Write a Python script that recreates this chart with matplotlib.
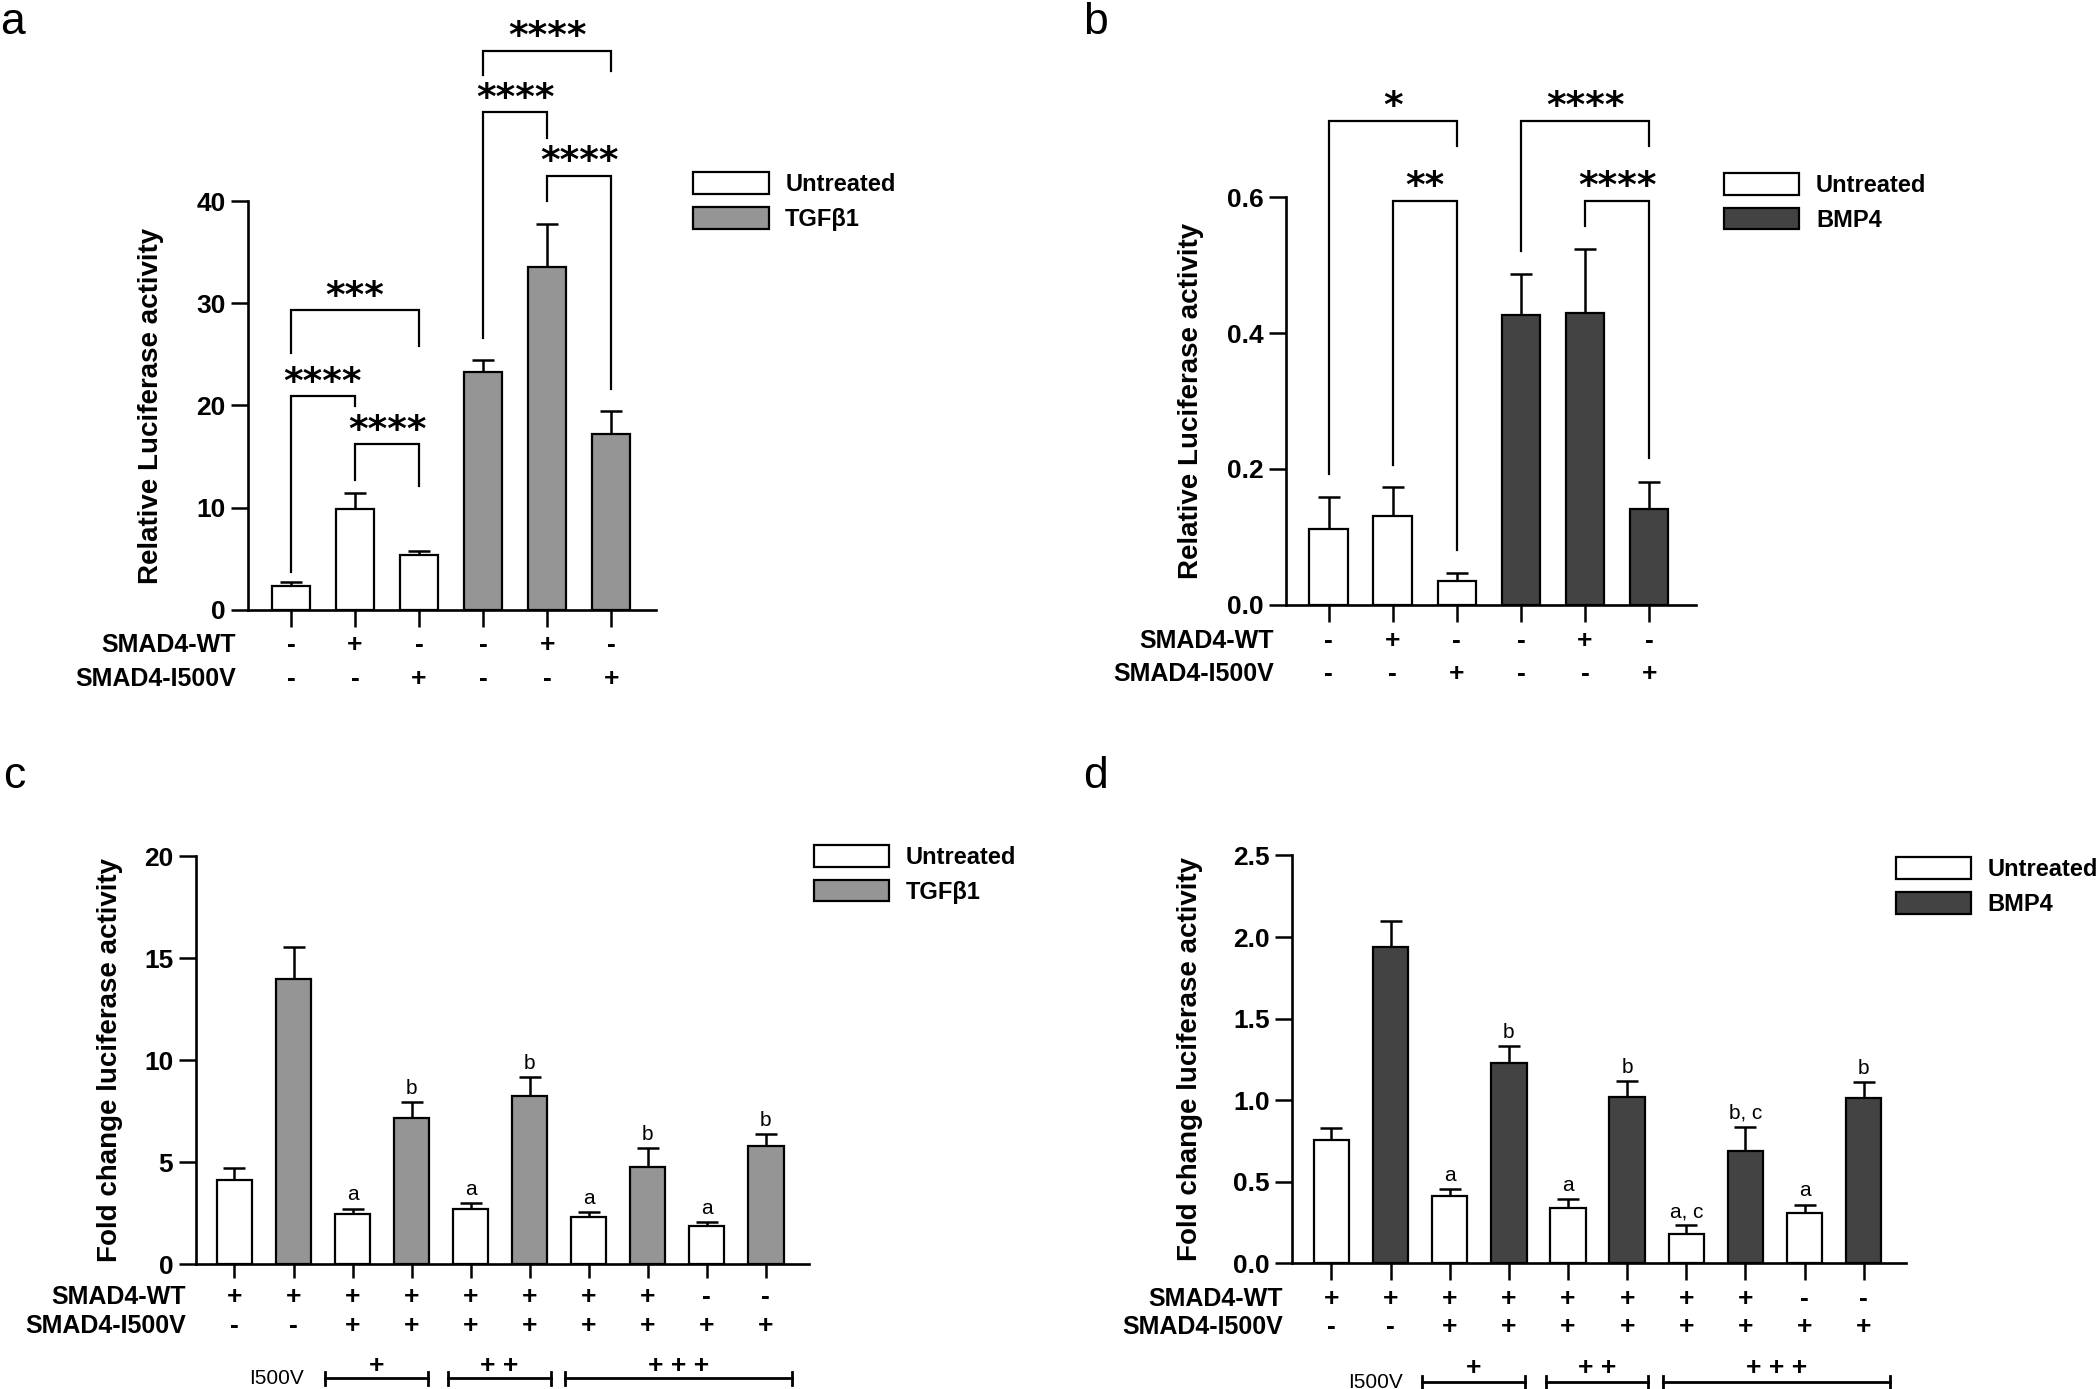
import matplotlib
matplotlib.use("Agg")
import matplotlib.pyplot as plt
import numpy as np
from matplotlib import font_manager as fm

_names = {f.name for f in fm.fontManager.ttflist}
SANS = "Liberation Sans" if "Liberation Sans" in _names else "DejaVu Sans"
NARROW = "Liberation Sans Narrow" if "Liberation Sans Narrow" in _names else SANS
plt.rcParams["font.family"] = [SANS, "DejaVu Sans"]

# ---------------- data ----------------
# panel a (TGFβ1, relative luciferase)
a_wt = ["-", "+", "-", "-", "+", "-"]
a_mut = ["-", "-", "+", "-", "-", "+"]
a_values = [2.3, 9.9, 5.4, 23.3, 33.6, 17.2]
a_err = [0.4, 1.5, 0.4, 1.1, 4.2, 2.3]
a_treated = [False, False, False, True, True, True]
# brackets: (i, j, y, left leg bottom, right leg bottom, label)
a_brackets = [
    (0, 2, 29.3, 25.1, 25.8, "***"),
    (0, 1, 20.9, 3.7, 19.9, "****"),
    (1, 2, 16.2, 12.7, 12.1, "****"),
    (3, 5, 54.7, 52.3, 52.7, "****"),
    (3, 4, 48.7, 26.6, 46.2, "****"),
    (4, 5, 42.5, 40.0, 21.6, "****"),
]

# panel b (BMP4, relative luciferase)
b_wt = ["-", "+", "-", "-", "+", "-"]
b_mut = ["-", "-", "+", "-", "-", "+"]
b_values = [0.112, 0.130, 0.035, 0.427, 0.430, 0.141]
b_err = [0.046, 0.043, 0.012, 0.060, 0.094, 0.040]
b_treated = [False, False, False, True, True, True]
b_brackets = [
    (0, 2, 0.713, 0.193, 0.676, "*"),
    (1, 2, 0.595, 0.206, 0.081, "**"),
    (3, 5, 0.713, 0.521, 0.676, "****"),
    (4, 5, 0.595, 0.558, 0.216, "****"),
]

# panel c (TGFβ1, fold change)
c_wt = ["+", "+", "+", "+", "+", "+", "+", "+", "-", "-"]
c_mut = ["-", "-", "+", "+", "+", "+", "+", "+", "+", "+"]
c_values = [4.11, 14.0, 2.46, 7.16, 2.69, 8.24, 2.30, 4.78, 1.87, 5.80]
c_err = [0.61, 1.54, 0.27, 0.78, 0.32, 0.92, 0.24, 0.90, 0.18, 0.59]
c_treated = [False, True] * 5
c_letters = ["", "", "a", "b", "a", "b", "a", "b", "a", "b"]

# panel d (BMP4, fold change)
d_wt = ["+", "+", "+", "+", "+", "+", "+", "+", "-", "-"]
d_mut = ["-", "-", "+", "+", "+", "+", "+", "+", "+", "+"]
d_values = [0.755, 1.94, 0.413, 1.227, 0.339, 1.023, 0.182, 0.691, 0.307, 1.015]
d_err = [0.073, 0.16, 0.042, 0.103, 0.054, 0.093, 0.052, 0.147, 0.054, 0.096]
d_treated = [False, True] * 5
d_letters = ["", "", "a", "b", "a", "b", "a, c", "b, c", "a", "b"]

# I500V dose groups (label, span start, span end in bar units)
dose_labels = ["+", "+ +", "+ + +"]
dose_start = [1.53, 3.62, 5.60]
dose_end = [3.27, 5.36, 9.45]

WHITE = "#ffffff"
GRAY = "#959595"
DARK = "#434343"

fig = plt.figure(figsize=(21, 13.89), dpi=100)


def make_axes(rect, xlim, ylim, yticks, ytick_fmt, tick_len):
    ax = fig.add_axes(rect)
    ax.set_xlim(*xlim)
    ax.set_ylim(*ylim)
    ax.spines["top"].set_visible(False)
    ax.spines["right"].set_visible(False)
    for s in ("left", "bottom"):
        ax.spines[s].set_linewidth(1.9)
    ax.set_yticks(yticks)
    ax.set_yticklabels([ytick_fmt.format(v) for v in yticks])
    ax.tick_params(axis="y", direction="out", length=12, width=1.8, pad=4,
                   labelsize=19)
    ax.tick_params(axis="x", direction="out", length=tick_len, width=1.8)
    for lab in ax.get_yticklabels():
        lab.set_fontweight("bold")
    return ax


def draw_bars(ax, values, err, treated, treat_label, treat_color):
    x = np.arange(len(values))
    values = np.asarray(values)
    err = np.asarray(err)
    t = np.asarray(treated)
    ax.errorbar(x, values, yerr=[np.zeros_like(err), err], fmt="none",
                ecolor="black", elinewidth=1.8, capsize=8, capthick=1.8,
                zorder=1)
    ax.bar(x[~t], values[~t], width=0.6, color=WHITE, edgecolor="black",
           linewidth=1.6, label="Untreated", zorder=2)
    ax.bar(x[t], values[t], width=0.6, color=treat_color, edgecolor="black",
           linewidth=1.6, label=treat_label, zorder=2)
    ax.set_xticks(x)
    ax.set_xticklabels([])
    return x


def rows(ax, wt, mut, ywt, ymut, xlab):
    tr = ax.get_xaxis_transform()
    for i, (w, m) in enumerate(zip(wt, mut)):
        ax.text(i, ywt, w, transform=tr, ha="center", va="center",
                fontsize=19, fontweight="bold", clip_on=False)
        ax.text(i, ymut, m, transform=tr, ha="center", va="center",
                fontsize=19, fontweight="bold", clip_on=False)
    ax.text(xlab, ywt, "SMAD4-WT", transform=ax.transAxes, ha="right",
            va="center", fontsize=18, fontweight="bold")
    ax.text(xlab, ymut, "SMAD4-I500V", transform=ax.transAxes, ha="right",
            va="center", fontsize=18, fontweight="bold")


def brackets(ax, blist):
    for i, j, y, yl, yr, lab in blist:
        ax.plot([i, i, j, j], [yl, y, y, yr], color="black", lw=1.6,
                clip_on=False, solid_joinstyle="miter")
        ax.annotate(lab, xy=((i + j) / 2, y), xytext=(0, 2.5),
                    textcoords="offset points", ha="center", va="baseline",
                    fontsize=27, fontweight="bold", family="DejaVu Sans",
                    annotation_clip=False)


def letters(ax, values, err, labs):
    for i, (v, e, s) in enumerate(zip(values, err, labs)):
        if s:
            ax.annotate(s, xy=(i, v + e), xytext=(0, 3),
                        textcoords="offset points", ha="center",
                        va="bottom", fontsize=15, family=NARROW)


def dose(ax, yline, ytext, xlab):
    tr = ax.get_xaxis_transform()
    for lab, x0, x1 in zip(dose_labels, dose_start, dose_end):
        ax.plot([x0, x1], [yline, yline], color="black", lw=2,
                transform=tr, clip_on=False)
        for xx in (x0, x1):
            ax.plot([xx, xx], [yline - 0.016, yline + 0.016], color="black",
                    lw=2, transform=tr, clip_on=False)
        ax.text((x0 + x1) / 2, ytext, lab, transform=tr, ha="center",
                va="center", fontsize=19, fontweight="bold")
    ax.text(xlab, yline, "I500V", transform=tr, ha="center", va="center",
            fontsize=15)


def legend(ax, x, y):
    leg = ax.legend(loc="upper left", bbox_to_anchor=(x, y), frameon=False,
                    prop={"size": 17, "weight": "bold"}, handlelength=3.2,
                    handleheight=1.05, labelspacing=0.45, handletextpad=0.7,
                    borderpad=0, borderaxespad=0)
    return leg


def ylabel(ax, text, xpos):
    ax.set_ylabel(text, fontsize=20, fontweight="bold")
    ax.yaxis.set_label_coords(xpos, 0.5)


def panel_letter(x, y, s):
    fig.text(x / 2100, 1 - y / 1389, s, fontsize=32, ha="left",
             va="baseline")


# ---------------- panel a ----------------
ax_a = make_axes([0.1181, 0.5610, 0.1943, 0.2942], (-0.67, 5.7), (0, 40),
                 [0, 10, 20, 30, 40], "{:.0f}", 12)
draw_bars(ax_a, a_values, a_err, a_treated, "TGFβ1", GRAY)
brackets(ax_a, a_brackets)
rows(ax_a, a_wt, a_mut, -0.0861, -0.1686, -0.029)
legend(ax_a, 1.0907, 1.071)
ylabel(ax_a, "Relative Luciferase activity", -0.205)
panel_letter(0, 34, "a")

# ---------------- panel b ----------------
ax_b = make_axes([0.6122, 0.5647, 0.1954, 0.2932], (-0.67, 5.73), (0, 0.6),
                 [0.0, 0.2, 0.4, 0.6], "{:.1f}", 12)
draw_bars(ax_b, b_values, b_err, b_treated, "BMP4", DARK)
brackets(ax_b, b_brackets)
rows(ax_b, b_wt, b_mut, -0.0888, -0.1710, -0.0285)
legend(ax_b, 1.068, 1.06)
ylabel(ax_b, "Relative Luciferase activity", -0.20)
panel_letter(1083, 34, "b")

# ---------------- panel c ----------------
ax_c = make_axes([0.0931, 0.0898, 0.2921, 0.2937], (-0.66, 9.73), (0, 20),
                 [0, 5, 10, 15, 20], "{:.0f}", 10)
draw_bars(ax_c, c_values, c_err, c_treated, "TGFβ1", GRAY)
letters(ax_c, c_values, c_err, c_letters)
rows(ax_c, c_wt, c_mut, -0.0814, -0.1502, -0.0155)
dose(ax_c, -0.2794, -0.249, 0.72)
legend(ax_c, 1.0075, 1.028)
ylabel(ax_c, "Fold change luciferase activity", -0.118)
panel_letter(3, 788, "c")

# ---------------- panel d ----------------
ax_d = make_axes([0.6154, 0.0904, 0.2921, 0.2937], (-0.66, 9.71), (0, 2.5),
                 [0.0, 0.5, 1.0, 1.5, 2.0, 2.5], "{:.1f}", 12)
draw_bars(ax_d, d_values, d_err, d_treated, "BMP4", DARK)
letters(ax_d, d_values, d_err, d_letters)
rows(ax_d, d_wt, d_mut, -0.0863, -0.1551, -0.0153)
dose(ax_d, -0.291, -0.257, 0.74)
legend(ax_d, 0.9837, 0.996)
ylabel(ax_d, "Fold change luciferase activity", -0.145)
panel_letter(1083, 788, "d")

fig.savefig("out.png", dpi=100)
